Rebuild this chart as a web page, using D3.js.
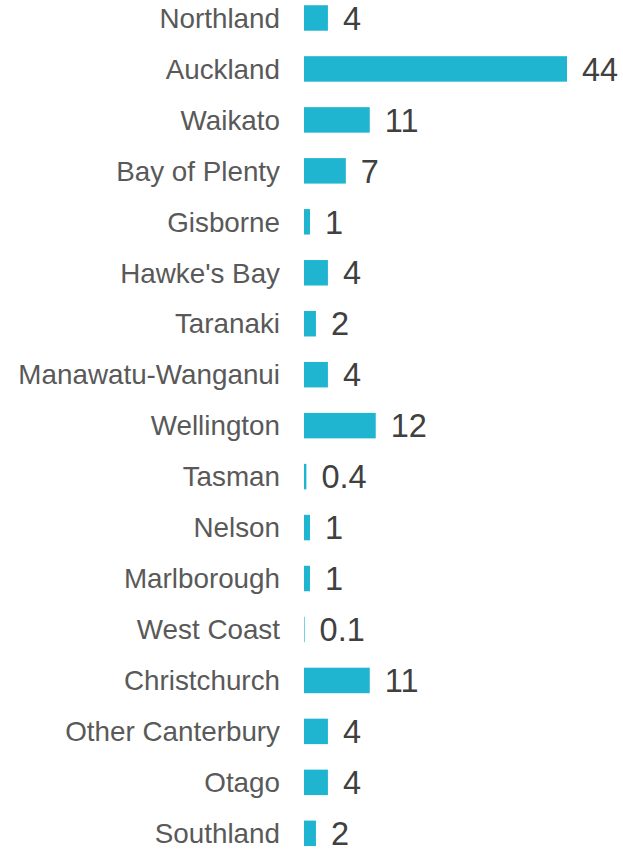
<html>
  <head>
    <style>
      body { margin: 0; background: #fff; }
      text { font-family: "Liberation Sans", Arial, sans-serif; }
      .cat { fill: #595959; font-size: 27.8px; }
      .val { fill: #404040; font-size: 32.5px; }
      .bar { fill: #1fb5d0; }
    </style>
    <script src="https://d3js.org/d3.v7.min.js"></script>
  </head>
  <body>
    <script>
      // regions and their values
      var regions = ["Northland", "Auckland", "Waikato", "Bay of Plenty", "Gisborne",
                     "Hawke's Bay", "Taranaki", "Manawatu-Wanganui", "Wellington", "Tasman",
                     "Nelson", "Marlborough", "West Coast", "Christchurch", "Other Canterbury",
                     "Otago", "Southland"]
      var values = [4, 44, 11, 7, 1, 4, 2, 4, 12, 0.4, 1, 1, 0.1, 11, 4, 4, 2]
      var labels = ["4", "44", "11", "7", "1", "4", "2", "4", "12", "0.4", "1", "1", "0.1", "11", "4", "4", "2"]

      var width = 623, height = 849

      var svg = d3.select("body").append("svg")
                  .attr("width", width).attr("height", height)

      var x = d3.scaleLinear().domain([0, 44]).range([304, 567])
      var y = d3.scaleBand().domain(regions)
                .range([-7.5, 858.8])
                .paddingInner(0.5).paddingOuter(0.25)

      var data = regions.map(function(r, i) { return {name: r, value: values[i], label: labels[i]} })

      // bars
      svg.selectAll("rect.bar").data(data).enter()
         .append("rect").attr("class", "bar")
         .attr("x", x(0))
         .attr("y", function(d) { return y(d.name) })
         .attr("width", function(d) { return x(d.value) - x(0) })
         .attr("height", y.bandwidth())

      // category labels on the left
      svg.selectAll("text.cat").data(data).enter()
         .append("text").attr("class", "cat")
         .attr("x", x(0) - 24)
         .attr("y", function(d) { return y(d.name) + y.bandwidth() / 2 })
         .attr("dy", "0.35em")
         .attr("text-anchor", "end")
         .text(function(d) { return d.name })

      // value labels after the bars
      svg.selectAll("text.val").data(data).enter()
         .append("text").attr("class", "val")
         .attr("x", function(d) { return x(d.value) + 15 })
         .attr("y", function(d) { return y(d.name) + y.bandwidth() / 2 })
         .attr("dy", "0.36em")
         .text(function(d) { return d.label })
    </script>
  </body>
</html>
